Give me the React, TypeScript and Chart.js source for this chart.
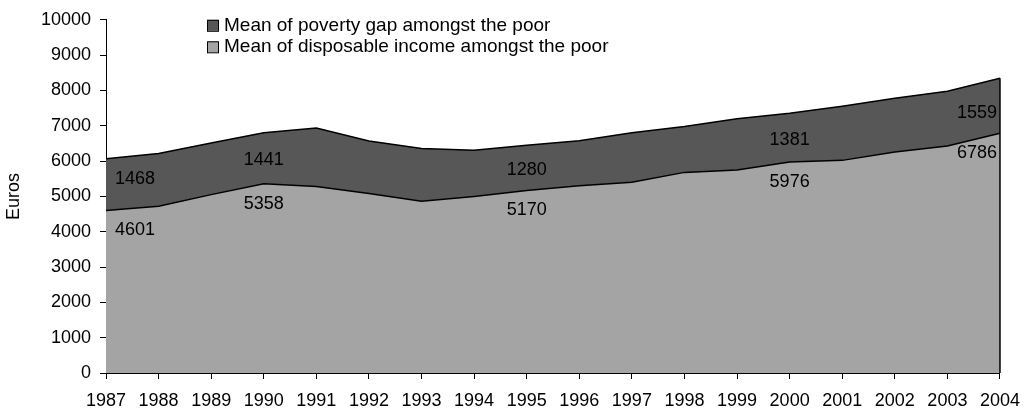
import { useEffect, useRef } from "react";
import { Chart, registerables } from "chart.js";

Chart.register(...registerables);

// Years on the horizontal axis
const years = [
  "1987", "1988", "1989", "1990", "1991", "1992", "1993", "1994", "1995",
  "1996", "1997", "1998", "1999", "2000", "2001", "2002", "2003", "2004",
];

// Mean disposable income amongst the poor (euros) – lower band
const disposableIncome = [
  4601, 4720, 5050, 5358, 5280, 5080, 4860, 5000, 5170,
  5300, 5400, 5680, 5750, 5976, 6020, 6260, 6430, 6786,
];

// Mean poverty gap amongst the poor (euros) – stacked on top
const povertyGap = [
  1468, 1497, 1465, 1441, 1655, 1490, 1495, 1310, 1280,
  1275, 1400, 1300, 1450, 1381, 1535, 1520, 1545, 1559,
];

// Years whose values are printed on the chart
const labelledYears = ["1987", "1990", "1995", "2000", "2004"];

const LEGEND_ORDER = [1, 0];

const FONT = "'Liberation Sans', Arial, Helvetica, sans-serif";
const DARK = "#575757";
const LIGHT = "#a4a4a4";
const INK = "#000000";

const valueLabels = {
  id: "valueLabels",
  afterDatasetsDraw(chart: any) {
    const { ctx, chartArea } = chart;
    const x = chart.scales.x;
    const y = chart.scales.y;
    const last = years.length - 1;

    ctx.save();
    // outline of the stacked area on its right-hand end
    const xr = x.getPixelForValue(last);
    ctx.strokeStyle = INK;
    ctx.lineWidth = 1.5;
    ctx.beginPath();
    ctx.moveTo(xr, y.getPixelForValue(disposableIncome[last] + povertyGap[last]));
    ctx.lineTo(xr, chartArea.bottom);
    ctx.stroke();

    ctx.font = `18px ${FONT}`;
    ctx.fillStyle = INK;
    ctx.textBaseline = "middle";
    labelledYears.forEach((yr) => {
      const i = years.indexOf(yr);
      const px = x.getPixelForValue(i);
      let tx = px;
      let align: CanvasTextAlign = "center";
      let gapShift = 2;
      if (i === 0) {
        tx = px + 9;
        align = "left";
        gapShift = -6;
      } else if (i === last) {
        tx = px - 3;
        align = "right";
        gapShift = 7;
      }
      ctx.textAlign = align;
      const gapMid = y.getPixelForValue(disposableIncome[i] + povertyGap[i] / 2);
      ctx.fillText(String(povertyGap[i]), tx, gapMid + gapShift);
      const incomeY = y.getPixelForValue(disposableIncome[i]);
      ctx.fillText(String(disposableIncome[i]), tx, incomeY + 20);
    });
    ctx.restore();
  },
};

const boxLegend = {
  id: "boxLegend",
  afterDraw(chart: any) {
    const { ctx, chartArea } = chart;
    const left = chartArea.left + 101;
    const top = chartArea.top;
    ctx.save();
    ctx.font = `19px ${FONT}`;
    ctx.textBaseline = "middle";
    ctx.textAlign = "left";
    LEGEND_ORDER.forEach((dsIndex, row) => {
      const ds = chart.data.datasets[dsIndex];
      const cy = top + 5.5 + row * 21.5;
      ctx.fillStyle = ds.backgroundColor;
      ctx.fillRect(left, cy - 5.5, 11, 11);
      ctx.strokeStyle = INK;
      ctx.lineWidth = 1;
      ctx.strokeRect(left + 0.5, cy - 5.5 + 0.5, 11, 11);
      ctx.fillStyle = INK;
      ctx.fillText(ds.label, left + 17, cy);
    });
    ctx.restore();
  },
};

export default function App() {
  const canvasRef = useRef<HTMLCanvasElement | null>(null);

  useEffect(() => {
    document.body.style.margin = "0";
    const canvas = canvasRef.current;
    if (!canvas) return;

    const axisGrid = {
      display: true,
      drawOnChartArea: false,
      drawTicks: true,
      tickLength: 6,
      tickColor: INK,
      lineWidth: 1,
    };

    const chart = new Chart(canvas, {
      type: "line",
      data: {
        labels: years,
        datasets: [
          {
            label: "Mean of disposable income amongst the poor",
            data: disposableIncome,
            backgroundColor: LIGHT,
            borderColor: INK,
            borderWidth: 1.5,
            fill: "origin",
            pointRadius: 0,
            tension: 0,
          },
          {
            label: "Mean of poverty gap amongst the poor",
            data: povertyGap,
            backgroundColor: DARK,
            borderColor: INK,
            borderWidth: 1.5,
            fill: "-1",
            pointRadius: 0,
            tension: 0,
          },
        ],
      },
      options: {
        animation: false,
        responsive: true,
        maintainAspectRatio: false,
        layout: { padding: { top: 17, right: 27, left: 0, bottom: 0 } },
        plugins: {
          legend: { display: false },
          tooltip: { enabled: false },
        },
        scales: {
          x: {
            offset: false,
            grid: axisGrid,
            border: { display: true, color: INK, width: 1 },
            ticks: {
              color: INK,
              font: { size: 18, family: FONT },
              padding: 11,
              maxRotation: 0,
              autoSkip: false,
            },
            afterFit: (scale: any) => {
              scale.height = 42;
            },
          },
          y: {
            stacked: true,
            min: 0,
            max: 10000,
            grid: axisGrid,
            border: { display: true, color: INK, width: 1 },
            ticks: {
              stepSize: 1000,
              color: INK,
              font: { size: 18, family: FONT },
              padding: 9,
              callback: (v: any) => String(v),
            },
            title: {
              display: true,
              text: "Euros",
              color: INK,
              font: { size: 18, family: FONT },
              padding: { top: 3, bottom: 0 },
            },
            afterFit: (scale: any) => {
              scale.width = 106;
            },
          },
        },
      },
      plugins: [valueLabels, boxLegend],
    });

    return () => chart.destroy();
  }, []);

  return (
    <div style={{ position: "relative", width: 1031, height: 415 }}>
      <canvas ref={canvasRef} />
    </div>
  );
}
